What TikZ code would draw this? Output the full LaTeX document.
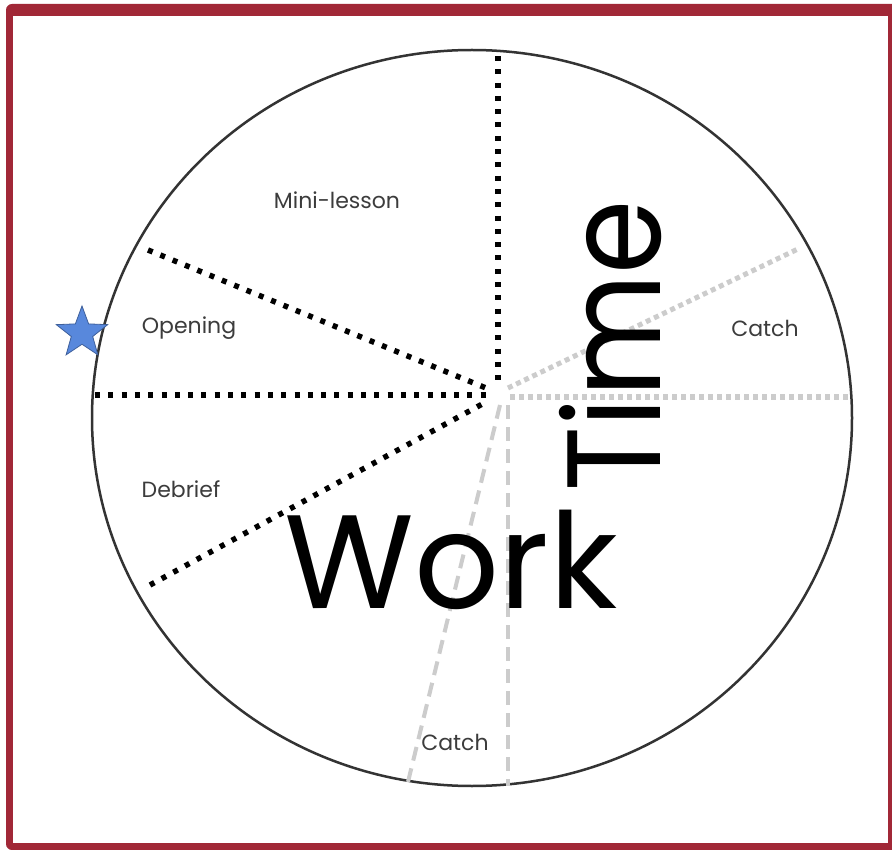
\documentclass[tikz,border=0pt]{standalone}
\usepackage{fontspec}
\setmainfont{Poppins}
\usetikzlibrary{shapes.geometric}
\definecolor{framered}{RGB}{161,40,55}
\definecolor{lbl}{RGB}{60,60,60}
\definecolor{starblue}{RGB}{88,136,220}
\begin{document}
\begin{tikzpicture}[x=1pt,y=-1pt,
  blackdots/.style={line width=5.5pt, dash pattern=on 5pt off 8.3pt, black},
  greydash/.style={line width=5pt, gray!40, dash pattern=on 5pt off 4pt},
  greylong/.style={line width=4pt, gray!40, dash pattern=on 14pt off 8pt},
  lab/.style={font=\fontsize{22}{26}\selectfont, text=lbl, inner sep=0pt},
  big/.style={font=\fontsize{133}{140}\selectfont, inner sep=0pt}]
\useasboundingbox (0,0) rectangle (892,850);
\fill[framered, rounded corners=6pt] (6,4) rectangle (900,850);
\fill[white] (13,16) rectangle (888,843);
\draw[line width=2.5pt, black!80] (472,418) ellipse [x radius=380, y radius=368];
% coordinates
\coordinate (vTop) at (498,56);
\coordinate (vHub) at (498,388);
\coordinate (hL) at (95,395);
\coordinate (hHub) at (488,395);
\coordinate (ulE) at (148,250);
\coordinate (ulHub) at (486,388);
\coordinate (llE) at (150,585);
\coordinate (llHub) at (486,402);
\coordinate (urE) at (800,248);
\coordinate (urHub) at (508,388);
\coordinate (rE) at (850,397);
\coordinate (rHub) at (510,397);
\coordinate (blE) at (407,786);
\coordinate (blHub) at (500,405);
\coordinate (brE) at (508,786);
\coordinate (brHub) at (508,405);
% grey lines
\draw[greydash] (urHub) -- (urE);
\draw[greydash] (rHub) -- (rE);
\draw[greylong] (blHub) -- (blE);
\draw[greylong] (brHub) -- (brE);
% black dotted lines
\draw[blackdots] (vTop) -- (vHub);
\draw[blackdots] (hL) -- (hHub);
\draw[blackdots] (ulE) -- (ulHub);
\draw[blackdots] (llE) -- (llHub);
% labels
\node[lab] (mini) at (337,200) {Mini-lesson};
\node[lab] (open) at (189,328) {Opening};
\node[lab] (deb) at (181,489) {Debrief};
\node[lab] (catchA) at (765,328) {Catch};
\node[lab] (catchB) at (455,742) {Catch};
\node[big, anchor=base] (work) at (451,608) {Work};
\node[big, anchor=base, rotate=90] (time) at (660,346) {\scalebox{0.9}[1]{Time}};
% star
\node[star, star points=5, star point ratio=2.4, fill=starblue, draw=starblue!70!black, line width=0.8pt, minimum size=54pt, inner sep=0pt] (star) at (82,333) {};
\end{tikzpicture}
\end{document}
